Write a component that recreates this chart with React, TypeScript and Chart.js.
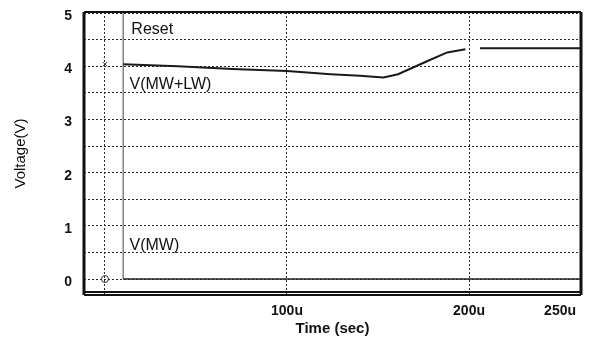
import React, { useEffect, useRef } from "react";
import { Chart, registerables } from "chart.js";

Chart.register(...registerables);

// Time in microseconds, voltage in volts
const mwlwTime = [10, 40, 70, 100, 124, 140, 153, 161, 176, 188, 198, 202, 206, 262];
const mwlwVolt = [4.04, 4.0, 3.95, 3.91, 3.85, 3.82, 3.79, 3.85, 4.08, 4.26, 4.32, null, 4.34, 4.34];

const mwTime = [10, 262];
const mwVolt = [0, 0];

const resetTime = [10, 10];
const resetVolt = [0, 5];

const markerTime = [0, 0];
const markerVolt = [0, 4.04];

const xTicks = [0, 100, 200, 250];
const xTickLabels = ["", "100u", "200u", "250u"];
const yTicks = [0, 0.5, 1, 1.5, 2, 2.5, 3, 3.5, 4, 4.5, 5];

const traceLabels = ["Reset", "V(MW+LW)", "V(MW)"];
const traceLabelTime = [14.5, 13.5, 13.5];
const traceLabelVolt = [4.68, 3.66, 0.62];

const FONT = "'Liberation Sans', Arial, sans-serif";

const pts = (xs: number[], ys: (number | null)[]) => xs.map((x, i) => ({ x, y: ys[i] }));

const framePlugin = {
  id: "frame",
  afterDraw(chart: any) {
    const { ctx, chartArea: a } = chart;
    ctx.save();
    ctx.strokeStyle = "#111";
    ctx.lineWidth = 2;
    ctx.beginPath();
    ctx.moveTo(a.left, a.top);
    ctx.lineTo(a.right, a.top);
    ctx.stroke();
    ctx.lineWidth = 3;
    ctx.beginPath();
    ctx.moveTo(a.left, a.top);
    ctx.lineTo(a.left, a.bottom);
    ctx.moveTo(a.right, a.top);
    ctx.lineTo(a.right, a.bottom);
    ctx.stroke();
    ctx.lineWidth = 2;
    ctx.beginPath();
    ctx.moveTo(a.left, a.bottom - 3);
    ctx.lineTo(a.right, a.bottom - 3);
    ctx.moveTo(a.left, a.bottom);
    ctx.lineTo(a.right, a.bottom);
    ctx.stroke();
    // trace labels
    const xs = chart.scales.x;
    const ys = chart.scales.y;
    ctx.fillStyle = "#111";
    ctx.font = `16px ${FONT}`;
    ctx.textBaseline = "middle";
    ctx.textAlign = "left";
    traceLabels.forEach((t, i) => {
      ctx.fillText(t, xs.getPixelForValue(traceLabelTime[i]), ys.getPixelForValue(traceLabelVolt[i]));
    });
    ctx.restore();
  },
};

export default function App() {
  const ref = useRef<HTMLCanvasElement>(null);
  useEffect(() => {
    if (!ref.current) return;
    const chart = new Chart(ref.current, {
      type: "scatter",
      data: {
        datasets: [
          {
            label: "V(MW+LW)",
            data: pts(mwlwTime, mwlwVolt),
            showLine: true,
            spanGaps: false,
            borderColor: "#1a1a1a",
            borderWidth: 2,
            pointRadius: 0,
          },
          {
            label: "V(MW)",
            data: pts(mwTime, mwVolt),
            showLine: true,
            borderColor: "#222",
            borderWidth: 1.5,
            pointRadius: 0,
          },
          {
            label: "Reset",
            data: pts(resetTime, resetVolt),
            showLine: true,
            borderColor: "#444",
            borderWidth: 1,
            pointRadius: 0,
          },
          {
            label: "markers",
            data: pts(markerTime, markerVolt),
            showLine: false,
            pointStyle: ["circle", "crossRot"],
            pointRadius: [3.5, 3],
            borderColor: "#333",
            borderWidth: 1,
            backgroundColor: "rgba(0,0,0,0)",
          },
        ],
      },
      options: {
        animation: false,
        responsive: false,
        maintainAspectRatio: false,
        layout: { autoPadding: false, padding: { left: 0, right: 17, top: 12, bottom: 0 } },
        plugins: { legend: { display: false }, tooltip: { enabled: false } },
        scales: {
          x: {
            type: "linear",
            min: -11.5,
            max: 261.5,
            afterBuildTicks: (s: any) => {
              s.ticks = xTicks.map((v) => ({ value: v }));
            },
            afterFit: (s: any) => {
              s.height = 47;
            },
            border: { display: false, dash: [2, 2] },
            grid: {
              drawTicks: false,
              color: (c: any) => (c.tick && c.tick.value === 250 ? "rgba(0,0,0,0)" : "#2a2a2a"),
              lineWidth: 1,
            },
            ticks: {
              autoSkip: false,
              maxRotation: 0,
              padding: 8,
              color: "#111",
              font: { family: FONT, size: 14, weight: "bold" },
              callback: (_v: any, i: number) => xTickLabels[i],
            },
            title: {
              display: true,
              text: "Time (sec)",
              color: "#111",
              font: { family: FONT, size: 15, weight: "bold" },
              padding: { top: 0, bottom: 4 },
            },
          },
          y: {
            type: "linear",
            min: -0.3,
            max: 5.02,
            afterBuildTicks: (s: any) => {
              s.ticks = yTicks.map((v) => ({ value: v }));
            },
            afterFit: (s: any) => {
              s.width = 84;
              s.paddingTop = 0;
              s.paddingBottom = 0;
            },
            border: { display: false, dash: [2, 2] },
            grid: { drawTicks: false, color: "#2a2a2a", lineWidth: 1 },
            ticks: {
              padding: 12,
              labelOffset: 3,
              color: "#111",
              font: { family: FONT, size: 14, weight: "bold" },
              callback: (v: any) => (Number.isInteger(v) ? String(v) : ""),
            },
            title: {
              display: true,
              text: "Voltage(V)",
              color: "#111",
              font: { family: FONT, size: 15 },
              padding: { top: 12, bottom: 0 },
            },
          },
        },
      },
      plugins: [framePlugin],
    } as any);
    return () => chart.destroy();
  }, []);
  return (
    <div style={{ position: "fixed", left: 0, top: 0, width: 598, height: 342, background: "#fff" }}>
      <canvas ref={ref} width={598} height={342} style={{ width: 598, height: 342 }} />
    </div>
  );
}
